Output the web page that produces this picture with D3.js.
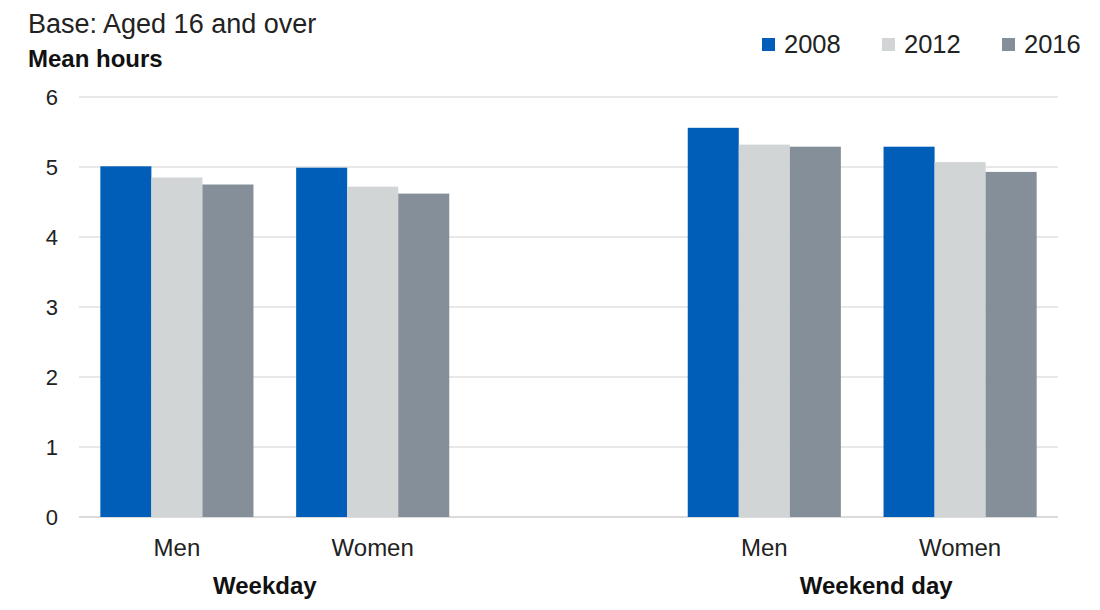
<!DOCTYPE html>
<html>
<head>
<meta charset="utf-8">
<script src="https://cdn.jsdelivr.net/npm/d3@7"></script>
<style>
  html, body { margin: 0; padding: 0; background: #fff; }
  svg { display: block; font-family: "Liberation Sans", Arial, sans-serif; }
</style>
</head>
<body>
<svg id="chart" width="1100" height="610"></svg>
<script>
// ---- data ----
const categories = ["Weekday|Men", "Weekday|Women", "gap", "Weekend day|Men", "Weekend day|Women"];
const categoryLabels = ["Men", "Women", "", "Men", "Women"];
const groups = ["Weekday", "Weekend day"];
const seriesNames = ["2008", "2012", "2016"];
const values2008 = [5.01, 4.99, null, 5.56, 5.29];
const values2012 = [4.85, 4.72, null, 5.32, 5.07];
const values2016 = [4.75, 4.62, null, 5.29, 4.93];
const yTicks = [0, 1, 2, 3, 4, 5, 6];
const colors = ["#005EB8", "#D1D5D6", "#858F99"];

const series = [values2008, values2012, values2016];

const svg = d3.select("#chart");
const margin = { left: 79, right: 42, top: 97, bottom: 93 };
const W = 1100, H = 610;

const x = d3.scaleBand().domain(categories).range([margin.left, W - margin.right]).paddingInner(0.218).paddingOuter(0.109);
const xs = d3.scaleBand().domain(seriesNames).range([0, x.bandwidth()]);
const y = d3.scaleLinear().domain([0, 6]).range([H - margin.bottom, margin.top]);

// gridlines
svg.append("g").selectAll("line").data(yTicks).join("line")
  .attr("x1", margin.left).attr("x2", W - margin.right)
  .attr("y1", d => y(d)).attr("y2", d => y(d))
  .attr("stroke", d => d === 0 ? "#CFCFCF" : "#E0E0E0").attr("stroke-width", 1.5);

// y axis labels
const yAxis = d3.axisLeft(y).tickValues(yTicks).tickSize(0).tickPadding(0).tickFormat(d3.format("d"));
const ya = svg.append("g").attr("transform", `translate(58,0)`).call(yAxis);
ya.select(".domain").remove();
ya.selectAll("text").attr("font-size", 22).attr("fill", "#222").attr("font-family", "Liberation Sans, Arial, sans-serif");

// bars
series.forEach((vals, si) => {
  svg.append("g").selectAll("rect")
    .data(categories.map((c, i) => ({ c, v: vals[i] })).filter(d => d.v != null))
    .join("rect")
    .attr("x", d => x(d.c) + xs(seriesNames[si]))
    .attr("width", xs.bandwidth())
    .attr("y", d => y(d.v))
    .attr("height", d => y(0) - y(d.v))
    .attr("fill", colors[si]);
});

// category labels
svg.append("g").selectAll("text").data(categories.filter((c, i) => categoryLabels[i]))
  .join("text")
  .attr("x", d => x(d) + x.bandwidth() / 2)
  .attr("y", 556)
  .attr("text-anchor", "middle")
  .attr("font-size", 24).attr("fill", "#222")
  .text(d => categoryLabels[categories.indexOf(d)]);

// group labels
const groupOffsets = [-10, 14];
groups.forEach((g, gi) => {
  const members = categories.filter(c => c.startsWith(g + "|"));
  const cx = (x(members[0]) + x(members[members.length - 1]) + x.bandwidth()) / 2 + groupOffsets[gi];
  svg.append("text").attr("x", cx).attr("y", 594).attr("text-anchor", "middle")
    .attr("font-size", 24).attr("font-weight", "bold").attr("fill", "#111").text(g);
});

// titles
svg.append("text").attr("x", 28).attr("y", 33).attr("font-size", 27).attr("fill", "#222")
  .text("Base: Aged 16 and over");
svg.append("text").attr("x", 28).attr("y", 67).attr("font-size", 24).attr("font-weight", "bold").attr("fill", "#111")
  .text("Mean hours");

// legend
const legendX = [762, 882, 1002];
const lg = svg.append("g");
seriesNames.forEach((s, i) => {
  lg.append("rect").attr("x", legendX[i]).attr("y", 38).attr("width", 13).attr("height", 13).attr("fill", colors[i]);
  lg.append("text").attr("x", legendX[i] + 22).attr("y", 53).attr("font-size", 25.5).attr("fill", "#222").text(s);
});
</script>
</body>
</html>
